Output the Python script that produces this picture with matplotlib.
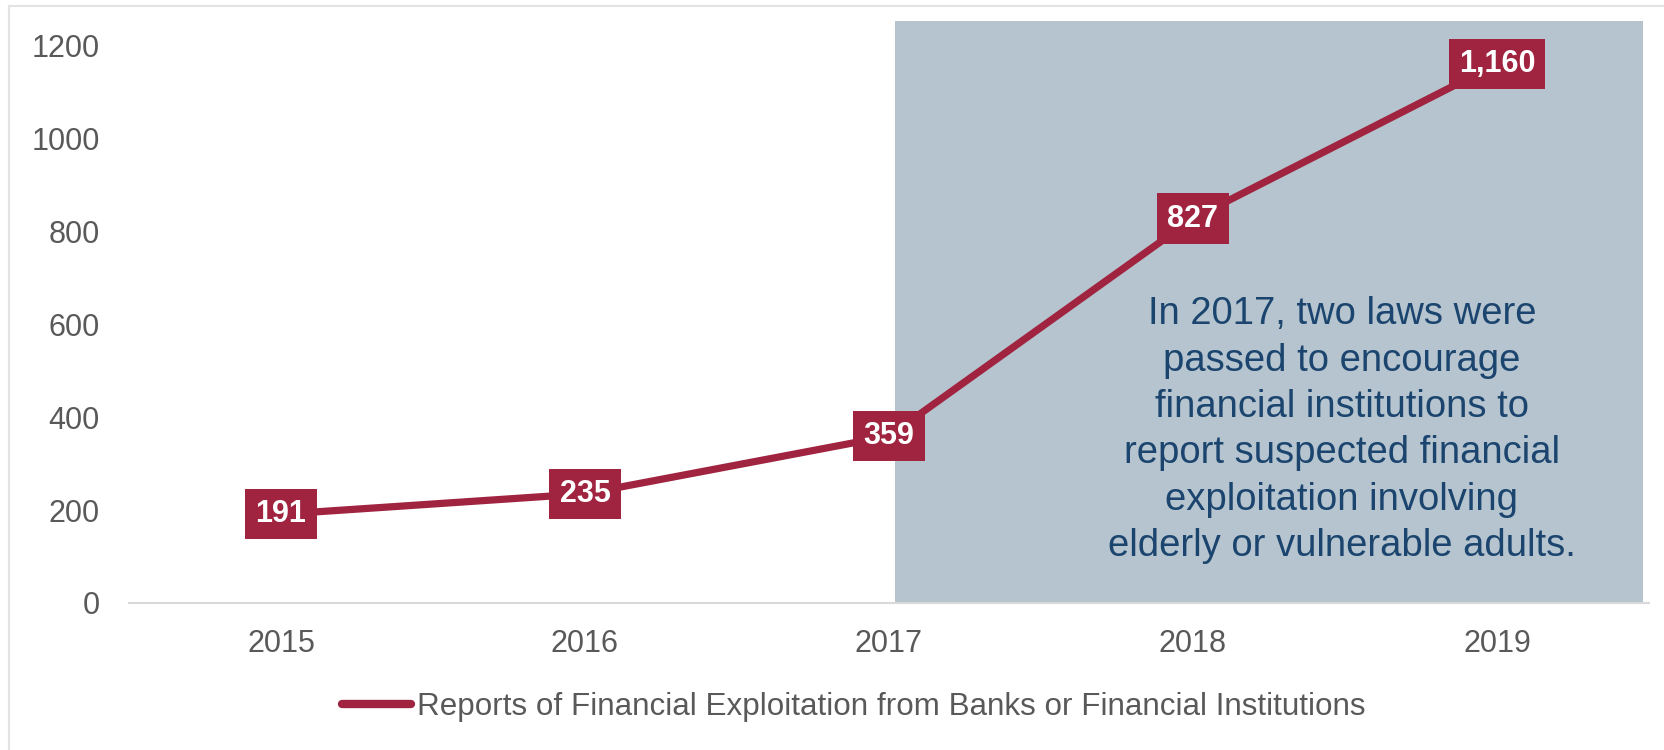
import numpy as np
import matplotlib
matplotlib.use("Agg")
import matplotlib.pyplot as plt
from matplotlib.lines import Line2D

# data
years = ["2015", "2016", "2017", "2018", "2019"]
reports = [191, 235, 359, 827, 1160]
series_name = "Reports of Financial Exploitation from Banks or Financial Institutions"
note = ("In 2017, two laws were\npassed to encourage\nfinancial institutions to\n"
        "report suspected financial\nexploitation involving\nelderly or vulnerable adults.")
y_ticks = [0, 200, 400, 600, 800, 1000, 1200]

line_color = "#A0243F"
shade_color = "#B5C4CE"
note_color = "#1B456E"
tick_color = "#595959"

plt.rcParams["font.family"] = ["Liberation Sans", "DejaVu Sans"]

fig = plt.figure(figsize=(16.64, 7.5), dpi=100)
ax = fig.add_axes([129 / 1664, 1 - 603 / 750, 1520 / 1664, 582 / 750])

x = np.arange(len(years))

# shaded region from 2017 onward
start = years.index("2017")
ax.axvspan(start + 0.02, len(years) - 0.52, color=shade_color, zorder=0, lw=0)

ax.plot(x, reports, color=line_color, lw=5.2, solid_capstyle="butt",
        label=series_name, zorder=2)

# value boxes
for xi, v in zip(x, reports):
    ax.text(xi, v, f"{v:,}", ha="center", va="center", color="white",
            fontsize=22, fontweight="bold", zorder=3,
            bbox=dict(boxstyle="square,pad=0.33", fc=line_color, ec="none"))

ax.text(3.49, 372, note, ha="center", va="center", color=note_color,
        fontsize=27.5, linespacing=1.37, zorder=3)

ax.set_xlim(-0.5, len(years) - 0.5)
ax.set_ylim(0, 1252)
ax.set_xticks(x)
ax.set_xticklabels(years)
ax.set_yticks(y_ticks)
ax.tick_params(axis="both", length=0, labelsize=22, labelcolor=tick_color)
ax.tick_params(axis="y", pad=21)
ax.tick_params(axis="x", pad=19)

for s in ["top", "right", "left"]:
    ax.spines[s].set_visible(False)
ax.spines["bottom"].set_color("#D9D9D9")
ax.spines["bottom"].set_linewidth(1.5)

leg = ax.legend(loc="center", bbox_to_anchor=(854 / 1664, 1 - 707 / 750),
                bbox_transform=fig.transFigure, frameon=False, fontsize=22.6,
                handlelength=2.2, handletextpad=0.2, borderaxespad=0)
for t in leg.get_texts():
    t.set_color(tick_color)
for h in leg.legend_handles:
    h.set_linewidth(6)
    h.set_solid_capstyle("round")

# thin frame lines at top and left
fig.add_artist(Line2D([9 / 1664, 1], [1 - 6 / 750, 1 - 6 / 750],
                      transform=fig.transFigure, color="#E3E3E3", lw=1.5))
fig.add_artist(Line2D([9 / 1664, 9 / 1664], [0, 1 - 6 / 750],
                      transform=fig.transFigure, color="#E3E3E3", lw=1.5))

fig.savefig("out.png", dpi=100)
